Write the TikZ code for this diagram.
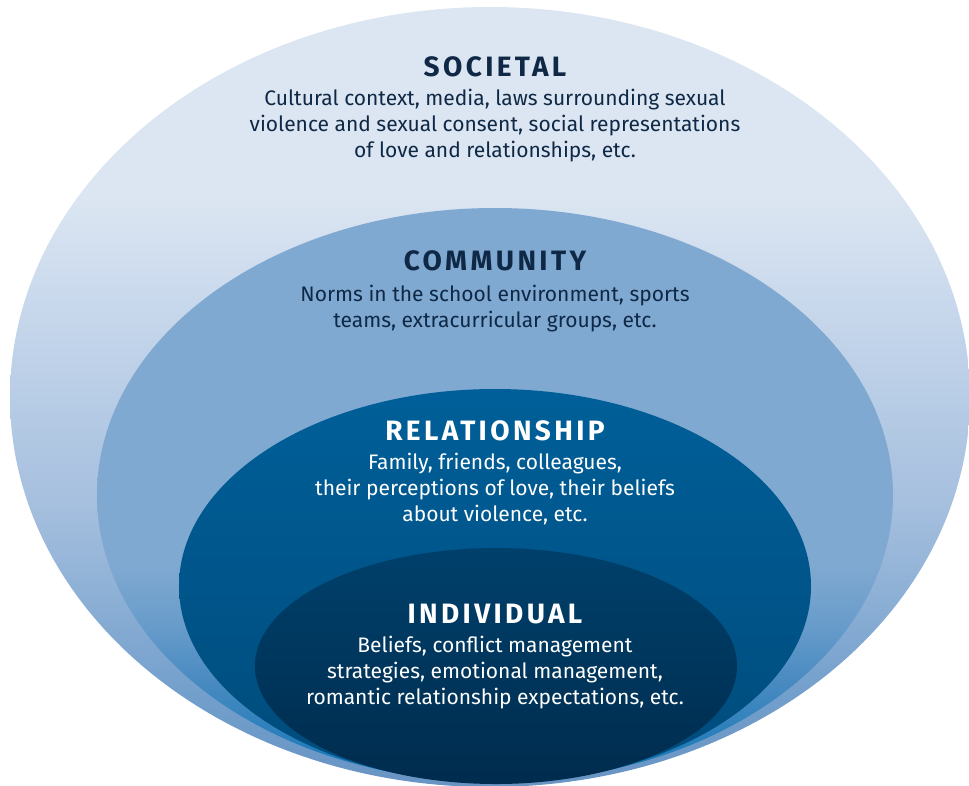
\documentclass[tikz,border=0pt]{standalone}
\usepackage{fontspec}
\setmainfont{Fira Sans}
\usetikzlibrary{positioning,shapes.geometric}
\definecolor{navy}{HTML}{0E2845}
\definecolor{socA}{HTML}{6894C4}
\definecolor{socB}{HTML}{739FCC}
\definecolor{socC}{HTML}{A5BFDE}
\definecolor{socD}{HTML}{C8D8EC}
\definecolor{socE}{HTML}{DCE6F2}
\definecolor{comA}{HTML}{0A73B2}
\definecolor{comB}{HTML}{2A7FBA}
\definecolor{comC}{HTML}{4A8BC1}
\definecolor{comD}{HTML}{6A9DCB}
\definecolor{comE}{HTML}{80A9D1}
\definecolor{relA}{HTML}{004B7B}
\definecolor{relB}{HTML}{005F99}
\definecolor{indA}{HTML}{002C4E}
\definecolor{indB}{HTML}{00406B}
\pgfdeclareverticalshading{societalshade}{100bp}{color(0bp)=(socA); color(25bp)=(socA);
  color(31bp)=(socB); color(43bp)=(socC); color(56bp)=(socD); color(63bp)=(socE);
  color(75bp)=(socE); color(100bp)=(socE)}
\pgfdeclareverticalshading{communityshade}{100bp}{color(0bp)=(comA); color(25bp)=(comA);
  color(29bp)=(comB); color(34bp)=(comC); color(39bp)=(comD); color(44bp)=(comE);
  color(75bp)=(comE); color(100bp)=(comE)}
\tikzset{
  layer/.style={ellipse,inner sep=0pt,draw=none,shade},
  heading/.style={font=\fontsize{28}{30}\selectfont\bfseries\addfontfeatures{LetterSpace=12},inner sep=0pt},
  blurb/.style={font=\fontsize{21}{26}\selectfont,align=center,inner sep=0pt},
  dark/.style={text=navy},
  light/.style={text=white}
}
\begin{document}
\begin{tikzpicture}[x=1pt,y=-1pt,node distance=12pt]
    \useasboundingbox (0,0) rectangle (969,785);
    \node[layer,shading=societalshade,minimum width=960pt,minimum height=780pt] (societal) at (490,397) {};
    \node[layer,shading=communityshade,minimum width=796pt,minimum height=574pt] (community) at (495,495) {};
    \node[layer,top color=relB,bottom color=relA,minimum width=632pt,minimum height=394pt] (relationship) at (495,586) {};
    \node[layer,top color=indB,bottom color=indA,minimum width=482pt,minimum height=236pt] (individual) at (496,666) {};
    \node[heading,dark] (soctitle) at (495,67) {SOCIETAL};
    \node[blurb,dark,below=of soctitle] (socbody) {Cultural context, media, laws surrounding sexual\\violence and sexual consent, social representations\\of love and relationships, etc.};
    \node[heading,dark] (comtitle) at (495,261) {COMMUNITY};
    \node[blurb,dark,below=of comtitle,yshift=-2pt] (combody) {Norms in the school environment, sports\\teams, extracurricular groups, etc.};
    \node[heading,light] (reltitle) at (495,431) {RELATIONSHIP};
    \node[blurb,light,below=of reltitle] (relbody) {Family, friends, colleagues,\\their perceptions of love, their beliefs\\about violence, etc.};
    \node[heading,light] (indtitle) at (495,614) {INDIVIDUAL};
    \node[blurb,light,below=of indtitle] (indbody) {Beliefs, conflict management\\strategies, emotional management,\\romantic relationship expectations, etc.};
  \end{tikzpicture}
\end{document}
